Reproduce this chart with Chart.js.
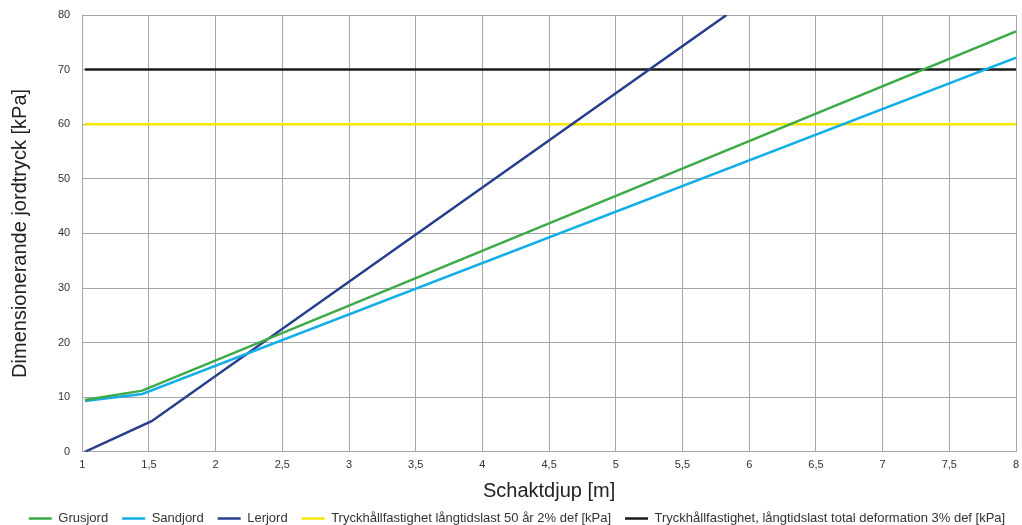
<!DOCTYPE html>
<html>
<head>
<meta charset="utf-8">
<script src="https://cdn.jsdelivr.net/npm/chart.js@4/dist/chart.umd.min.js"></script>
<style>
  html, body { margin: 0; padding: 0; background: #fff; }
  #wrap { width: 1022px; height: 525px; }
</style>
</head>
<body>
<div id="wrap"><canvas id="chart"></canvas></div>
<script>
// depth [m] / pressure [kPa]
const grusX = [1.02, 1.45, 8];
const grusY = [9.5, 11.2, 77];
const sandX = [1.02, 1.45, 8];
const sandY = [9.3, 10.6, 72.2];
const lerX = [1.02, 1.52, 5.83];
const lerY = [0, 5.6, 80];
const limitX = [1.02, 8];
const limit2pct = [60, 60];
const limit3pct = [70, 70];

function pts(xs, ys) {
    return xs.map(function(x, i) { return { x: x, y: ys[i] }; });
}

function line(label, xs, ys, color) {
    return {
        label: label,
        data: pts(xs, ys),
        borderColor: color,
        backgroundColor: color,
        borderWidth: 2.5,
        pointRadius: 0,
        tension: 0,
        fill: false
    };
}

const ctx = document.getElementById('chart').getContext('2d');
new Chart(ctx, {
    type: 'line',
    data: {
        datasets: [
            line('Grusjord', grusX, grusY, '#3daa48'),
            line('Sandjord', sandX, sandY, '#12aee8'),
            line('Lerjord', lerX, lerY, '#263e8c'),
            line('Tryckhållfastighet långtidslast 50 år 2% def [kPa]', limitX, limit2pct, '#f5e600'),
            line('Tryckhållfastighet, långtidslast total deformation 3% def [kPa]', limitX, limit3pct, '#1a1a1a')
        ]
    },
    options: {
        responsive: true,
        maintainAspectRatio: false,
        animation: false,
        layout: { padding: { top: 0, right: -4, left: 8, bottom: -10 } },
        plugins: {
            legend: {
                position: 'bottom',
                labels: {
                    usePointStyle: true,
                    pointStyle: 'line',
                    pointStyleWidth: 23,
                    boxWidth: 23,
                    padding: 14,
                    color: '#333',
                    font: { family: 'Liberation Sans', size: 13 }
                }
            },
            tooltip: { enabled: false }
        },
        scales: {
            x: {
                type: 'linear',
                min: 1,
                max: 8,
                afterFit: function(s) { s.paddingRight = 6; },
                ticks: {
                    stepSize: 0.5,
                    color: '#333',
                    padding: 7,
                    font: { family: 'Liberation Sans', size: 11 },
                    maxRotation: 0,
                    callback: function(v) { return String(v).replace('.', ','); }
                },
                grid: { color: '#a6a6a6', lineWidth: 1, drawTicks: false },
                border: { color: '#a6a6a6' },
                title: {
                    display: true,
                    text: 'Schaktdjup [m]',
                    color: '#222',
                    font: { family: 'Liberation Sans', size: 20 },
                    padding: { top: 0, bottom: -5 }
                }
            },
            y: {
                min: 0,
                max: 80,
                afterFit: function(s) { s.paddingTop = 15; },
                ticks: {
                    stepSize: 10,
                    color: '#333',
                    padding: 12,
                    font: { family: 'Liberation Sans', size: 11 }
                },
                grid: { color: '#a6a6a6', lineWidth: 1, drawTicks: false },
                border: { color: '#a6a6a6' },
                title: {
                    display: true,
                    text: 'Dimensionerande jordtryck [kPa]',
                    color: '#222',
                    font: { family: 'Liberation Sans', size: 20 },
                    padding: { top: 0, bottom: 14 }
                }
            }
        }
    }
});
</script>
</body>
</html>
